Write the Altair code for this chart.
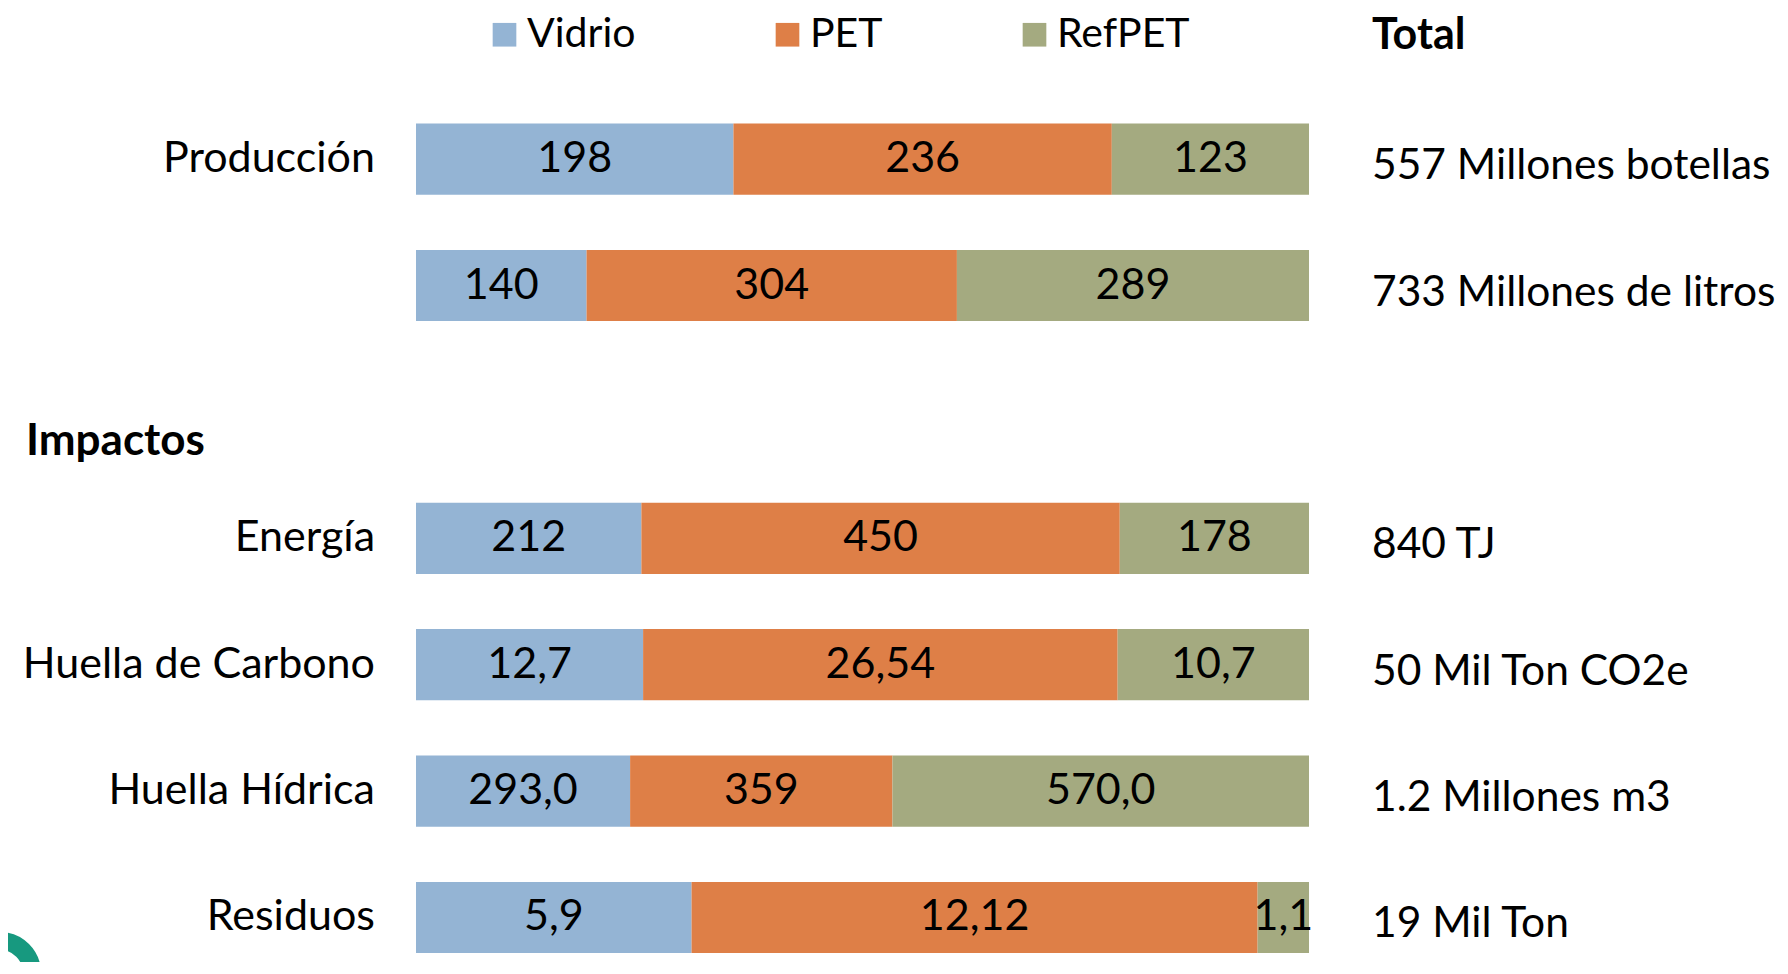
import altair as alt
import pandas as pd

# ---------------- data ----------------
materials = ["Vidrio", "PET", "RefPET"]
colors = ["#94B4D4", "#DE7F47", "#A4AA80"]

# row order on the category axis (third slot is the empty gap above "Impactos")
row_keys = ["Producción", "Producción litros", "vacío", "Energía",
            "Huella de Carbono", "Huella Hídrica", "Residuos"]
row_labels = ["Producción", "", "", "Energía",
              "Huella de Carbono", "Huella Hídrica", "Residuos"]

bar_rows = ["Producción", "Producción litros", "Energía",
            "Huella de Carbono", "Huella Hídrica", "Residuos"]
vidrio_vals = [198, 140, 212, 12.7, 293.0, 5.9]
pet_vals = [236, 304, 450, 26.54, 359, 12.12]
refpet_vals = [123, 289, 178, 10.7, 570.0, 1.1]
vidrio_txt = ["198", "140", "212", "12,7", "293,0", "5,9"]
pet_txt = ["236", "304", "450", "26,54", "359", "12,12"]
refpet_txt = ["123", "289", "178", "10,7", "570,0", "1,1"]
totals = ["557 Millones botellas", "733 Millones de litros", "840 TJ",
          "50 Mil Ton CO2e", "1.2 Millones m3", "19 Mil Ton"]

# ---------------- tables ----------------
recs = []
for i, r in enumerate(bar_rows):
    for k, (m, vals, txts) in enumerate(zip(materials,
                                            [vidrio_vals, pet_vals, refpet_vals],
                                            [vidrio_txt, pet_txt, refpet_txt])):
        recs.append({"row": r, "material": m, "value": vals[i], "label": txts[i], "order": k})
df = pd.DataFrame(recs)
label_df = pd.DataFrame({"row": row_keys, "label": row_labels})
total_df = pd.DataFrame({"row": bar_rows, "total": totals})

FONT = "Lato"

yscale = alt.Scale(domain=row_keys, paddingInner=0.437, paddingOuter=0.1444, align=0.755)
xscale = alt.Scale(domain=[0, 1])

base = alt.Chart(df).transform_stack(
    stack="value", groupby=["row"], as_=["x0", "x1"], offset="normalize",
    sort=[alt.SortField("order", order="ascending")]
).transform_calculate(mid="(datum.x0 + datum.x1) / 2")

bars = base.mark_bar().encode(
    y=alt.Y("row:N", scale=yscale,
            axis=alt.Axis(labels=False, ticks=False, title=None, grid=False,
                          domainColor="#A0A0A0", domainWidth=2)),
    x=alt.X("x0:Q", scale=xscale, axis=None),
    x2="x1:Q",
    color=alt.Color("material:N",
                    scale=alt.Scale(domain=materials, range=colors),
                    legend=alt.Legend(orient="none", legendX=68, legendY=-82,
                                      direction="horizontal", title=None,
                                      symbolType="square", symbolSize=560,
                                      symbolStrokeWidth=0, symbolOpacity=1,
                                      labelFont=FONT, labelFontSize=41,
                                      labelColor="black", labelOffset=2,
                                      columnPadding=131, padding=0)),
)

values = base.mark_text(font=FONT, fontSize=43, color="black", baseline="middle").encode(
    y=alt.Y("row:N", scale=yscale, axis=None),
    x=alt.X("mid:Q", scale=xscale, axis=None),
    text="label:N",
)

row_text = alt.Chart(label_df).mark_text(
    font=FONT, fontSize=43, color="black", align="right", baseline="middle"
).encode(
    y=alt.Y("row:N", scale=yscale, axis=None),
    x=alt.value(-41),
    text="label:N",
)

total_text = alt.Chart(total_df).mark_text(
    font=FONT, fontSize=42.5, color="black", align="left", baseline="middle", dy=7
).encode(
    y=alt.Y("row:N", scale=yscale, axis=None),
    x=alt.value(956),
    text="total:N",
)

total_head = alt.Chart(pd.DataFrame({"t": ["Total"]})).mark_text(
    font=FONT, fontSize=43, fontWeight="bold", color="black", align="left", baseline="middle"
).encode(x=alt.value(956), y=alt.value(-60), text="t:N")

impactos = alt.Chart(pd.DataFrame({"t": ["Impactos"]})).mark_text(
    font=FONT, fontSize=44, fontWeight="bold", color="black", align="left", baseline="middle"
).encode(x=alt.value(-390), y=alt.value(346), text="t:N")

ring = alt.Chart(pd.DataFrame({"t": ["o"]})).mark_point(
    shape="circle", filled=False, size=4096, strokeWidth=18, color="#17997F", opacity=1
).encode(x=alt.value(-416), y=alt.value(877))

chart = alt.layer(bars, values, row_text, total_text, total_head, impactos, ring).properties(
    width=893, height=866,
    padding={"left": 408, "top": 88, "right": 471, "bottom": 0},
    autosize=alt.AutoSizeParams(type="none"),
).configure_view(strokeWidth=0)

chart.save("out.html", embed_options={"renderer": "svg", "actions": False})
